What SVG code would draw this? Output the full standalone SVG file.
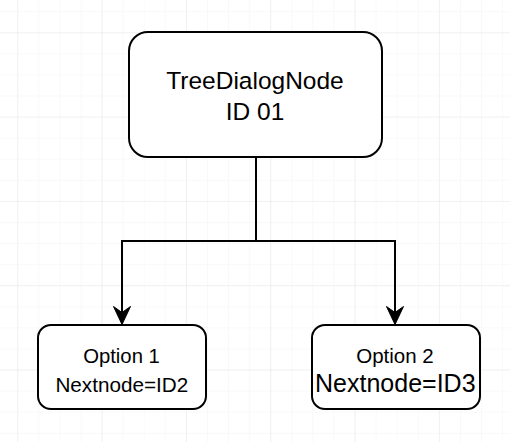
<svg xmlns="http://www.w3.org/2000/svg" width="510" height="442" viewBox="0 0 510 442">
<defs>
<pattern id="minor" x="17.3" y="11.2" width="21.08" height="21.08" patternUnits="userSpaceOnUse">
<path d="M0 0V21.08M0 0H21.08" fill="none" stroke="#f3f3f3" stroke-width="1"/>
</pattern>
<pattern id="major" x="17.3" y="32.3" width="84.32" height="84.32" patternUnits="userSpaceOnUse">
<path d="M0 0V84.32M0 0H84.32" fill="none" stroke="#e8e8e8" stroke-width="1"/>
</pattern>
</defs>
<style>
.node{fill:#fff;stroke:#000;stroke-width:2}
.edge{fill:none;stroke:#000;stroke-width:2}
.head{fill:#000;stroke:#000;stroke-width:1}
text{font-family:"Liberation Sans",Arial,sans-serif;fill:#000;text-anchor:middle}
</style>
<rect width="510" height="442" fill="#fff"/>
<rect width="510" height="442" fill="url(#minor)"/>
<rect width="510" height="442" fill="url(#major)"/>
<g id="connectors">
<path class="edge" d="M256 157V241H122V313"/>
<path class="edge" d="M256 241H395V313"/>
<path class="head" d="M122 324.5L113.5 306.5L122 312.5L130.5 306.5Z"/>
<path class="head" d="M395 324.5L386.5 306.5L395 312.5L403.5 306.5Z"/>
</g>
<g id="node-root">
<rect class="node" x="129" y="32" width="253" height="125" rx="19" ry="19"/>
<text x="255" y="89" font-size="24.5">TreeDialogNode</text>
<text x="255" y="120" font-size="24.5">ID 01</text>
</g>
<g id="node-option1">
<rect class="node" x="38" y="325" width="168" height="84" rx="13" ry="13"/>
<text x="121.5" y="362.7" font-size="20.3">Option 1</text>
<text x="121.8" y="391.7" font-size="20.7">Nextnode=ID2</text>
</g>
<g id="node-option2">
<rect class="node" x="312" y="325" width="168" height="84" rx="13" ry="13"/>
<text x="395" y="362.7" font-size="20.5">Option 2</text>
<text x="395.3" y="391.7" font-size="25">Nextnode=ID3</text>
</g>
</svg>
